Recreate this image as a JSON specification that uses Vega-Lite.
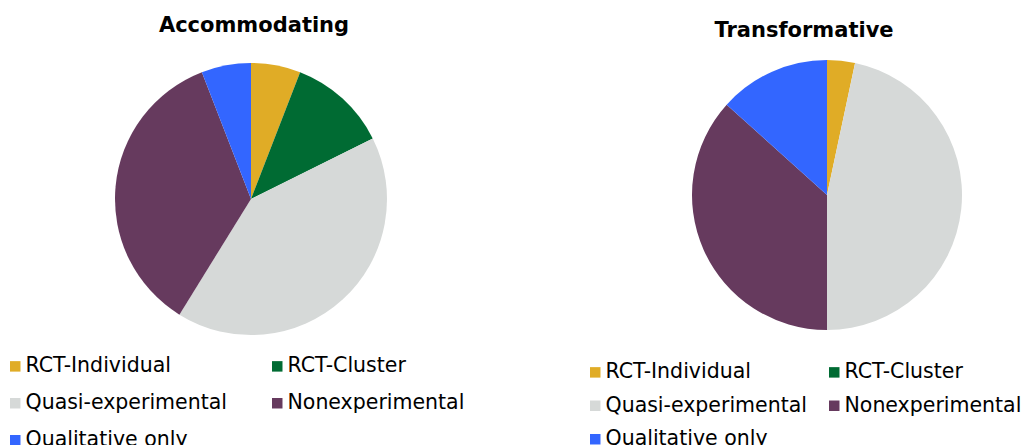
{
  "$schema": "https://vega.github.io/schema/vega-lite/v6.json",
  "background": "white",
  "padding": {"left": 5, "top": 15, "right": 0, "bottom": 0},
  "bounds": "flush",
  "spacing": 305,
  "datasets": {
    "pie": [
      {"chart": "Accommodating", "category": "RCT-Individual", "k": 1, "n": 3},
      {"chart": "Accommodating", "category": "RCT-Cluster", "k": 2, "n": 6},
      {"chart": "Accommodating", "category": "Quasi-experimental", "k": 3, "n": 21},
      {"chart": "Accommodating", "category": "Nonexperimental", "k": 4, "n": 18},
      {"chart": "Accommodating", "category": "Qualitative only", "k": 5, "n": 3},
      {"chart": "Transformative", "category": "RCT-Individual", "k": 1, "n": 1},
      {"chart": "Transformative", "category": "RCT-Cluster", "k": 2, "n": 0},
      {"chart": "Transformative", "category": "Quasi-experimental", "k": 3, "n": 14},
      {"chart": "Transformative", "category": "Nonexperimental", "k": 4, "n": 11},
      {"chart": "Transformative", "category": "Qualitative only", "k": 5, "n": 4}
    ]
  },
  "hconcat": [
    {
      "width": 272,
      "height": 280,
      "title": {"text": "Accommodating", "fontSize": 21, "fontWeight": "bold", "font": "DejaVu Sans", "color": "#000000", "dx": 3, "offset": 23},
      "data": {"name": "pie"},
      "transform": [{"filter": "datum.chart === 'Accommodating'"}],
      "mark": {"type": "arc", "outerRadius": 136},
      "encoding": {
        "theta": {"field": "n", "type": "quantitative", "stack": true},
        "order": {"field": "k", "type": "quantitative"},
        "color": {
          "field": "category",
          "type": "nominal",
          "scale": {
            "domain": ["RCT-Individual", "RCT-Cluster", "Quasi-experimental", "Nonexperimental", "Qualitative only"],
            "range": ["#E0AC26", "#006B33", "#D6D9D8", "#663A5E", "#3366FF"]
          },
          "legend": {
            "title": null,
            "orient": "none",
            "legendX": -110,
            "legendY": 297,
            "direction": "horizontal",
            "columns": 2,
            "columnPadding": 40,
            "rowPadding": 16,
            "symbolType": "square",
            "symbolSize": 110,
            "symbolStrokeWidth": 0,
            "labelFont": "DejaVu Sans",
            "labelFontSize": 20.5,
            "labelColor": "#000000",
            "labelOffset": 0,
            "labelLimit": 400
          }
        }
      }
    },
    {
      "width": 270,
      "height": 272,
      "title": {"text": "Transformative", "fontSize": 21, "fontWeight": "bold", "font": "DejaVu Sans", "color": "#000000", "dx": -23, "offset": 18},
      "data": {"name": "pie"},
      "transform": [{"filter": "datum.chart === 'Transformative'"}],
      "mark": {"type": "arc", "outerRadius": 135},
      "encoding": {
        "theta": {"field": "n", "type": "quantitative", "stack": true},
        "order": {"field": "k", "type": "quantitative"},
        "color": {
          "field": "category",
          "type": "nominal",
          "scale": {
            "domain": ["RCT-Individual", "RCT-Cluster", "Quasi-experimental", "Nonexperimental", "Qualitative only"],
            "range": ["#E0AC26", "#006B33", "#D6D9D8", "#663A5E", "#3366FF"]
          },
          "legend": {
            "title": null,
            "orient": "none",
            "legendX": -107,
            "legendY": 303,
            "direction": "horizontal",
            "columns": 2,
            "columnPadding": 17,
            "rowPadding": 12.5,
            "symbolType": "square",
            "symbolSize": 110,
            "symbolStrokeWidth": 0,
            "labelFont": "DejaVu Sans",
            "labelFontSize": 20.5,
            "labelColor": "#000000",
            "labelOffset": 0,
            "labelLimit": 400
          }
        }
      }
    }
  ],
  "resolve": {"scale": {"color": "independent"}, "legend": {"color": "independent"}},
  "config": {"view": {"stroke": null}}
}
